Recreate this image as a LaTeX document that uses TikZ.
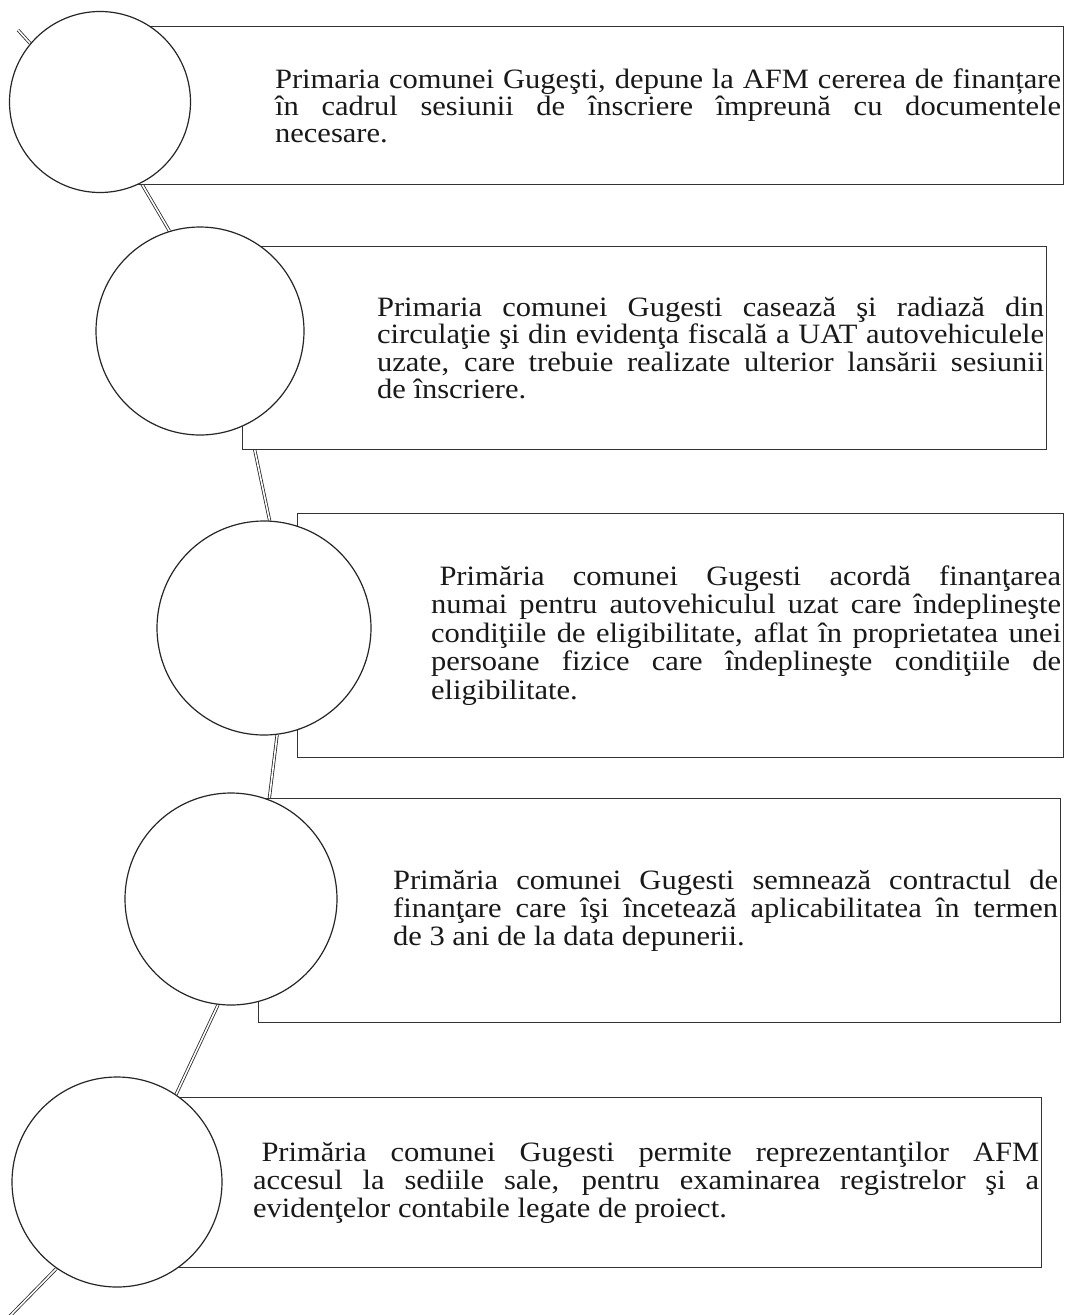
\documentclass[tikz,border=0pt]{standalone}
\usepackage{fontspec}
\setmainfont{Liberation Serif}[FakeStretch=1.09]
\usetikzlibrary{positioning,backgrounds}
\lineskiplimit=-40pt
\hyphenpenalty=10000

\begin{document}
\begin{tikzpicture}[x=1pt,y=-1pt,
   ball/.style={circle,draw=black!85,line width=1.2pt,fill=white,inner sep=0pt,minimum size=#1},
   panel/.style={rectangle,draw=black!80,line width=1.3pt,fill=white,inner sep=0pt,anchor=north west},
   note/.style={inner sep=0pt,text=black!90,align=justify,font=\fontsize{28}{#1}\selectfont},
   note/.default=28,
   link/.style={draw=black!85,line width=0.8pt,double=white,double distance=1.6pt}]
   \useasboundingbox (0,0) rectangle (1066,1315);
   % boxes
   \node[panel,minimum width=963pt,minimum height=158pt] (b_1) at (100,26) {};
   \node[panel,minimum width=804pt,minimum height=203pt] (b_2) at (242,246) {};
   \node[panel,minimum width=766pt,minimum height=244pt] (b_3) at (297,513) {};
   \node[panel,minimum width=802pt,minimum height=224pt] (b_4) at (258,798) {};
   \node[panel,minimum width=924pt,minimum height=170pt] (b_5) at (117,1097) {};
   % texts
   \node[note=27,text width=786pt,left=3pt of b_1.east] (t_1) {Primaria comunei Gugeşti, depune la AFM cererea de finanțare\linebreak
      în cadrul sesiunii de înscriere împreună cu documentele\linebreak
      necesare.};
   \node[note=27.5,text width=667pt,left=3pt of b_2.east] (t_2) {Primaria comunei Gugesti casează şi radiază din\linebreak
      circulaţie şi din evidenţa fiscală a UAT autovehiculele\linebreak
      uzate, care trebuie realizate ulterior lansării sesiunii\linebreak
      de înscriere.};
   \node[note=28.5,text width=630pt,left=3pt of b_3.east] (t_3) {\hspace*{.3em}Primăria comunei Gugesti acordă finanţarea\linebreak
      numai pentru autovehiculul uzat care îndeplineşte\linebreak
      condiţiile de eligibilitate, aflat în proprietatea unei\linebreak
      persoane fizice care îndeplineşte condiţiile de\linebreak
      eligibilitate.};
   \node[note=28,text width=665pt,left=3pt of b_4.east] (t_4) {Primăria comunei Gugesti semnează contractul de\linebreak
      finanţare care îşi încetează aplicabilitatea în termen\linebreak
      de 3 ani de la data depunerii.};
   \node[note=28,text width=786pt,left=3pt of b_5.east] (t_5) {\hspace*{.3em}Primăria comunei Gugesti permite reprezentanţilor AFM\linebreak
      accesul la sediile sale, pentru examinarea registrelor şi a\linebreak
      evidenţelor contabile legate de proiect.};
   % circles
   \node[ball=181pt] (c_1) at (100,102) {};
   \node[ball=208pt] (c_2) at (200,331) {};
   \node[ball=214pt] (c_3) at (264,628) {};
   \node[ball=212pt] (c_4) at (231,899) {};
   \node[ball=210pt] (c_5) at (117,1182) {};
   \coordinate (head) at (18,30);
   \coordinate (tail) at (6,1320);
   % spine
   \begin{pgfonlayer}{background}
   \draw[link] (head) -- (c_1.140.7);
   \draw[link] (c_1.-63.7) -- (c_2.107.8);
   \draw[link] (c_2.-62.7) -- (c_3.87.9);
   \draw[link] (c_3.-83.1) -- (c_4.69);
   \draw[link] (c_4.-97.5) -- (c_5.56.3);
   \draw[link] (c_5.-125.2) -- (tail);
   \end{pgfonlayer}
\end{tikzpicture}
\end{document}
